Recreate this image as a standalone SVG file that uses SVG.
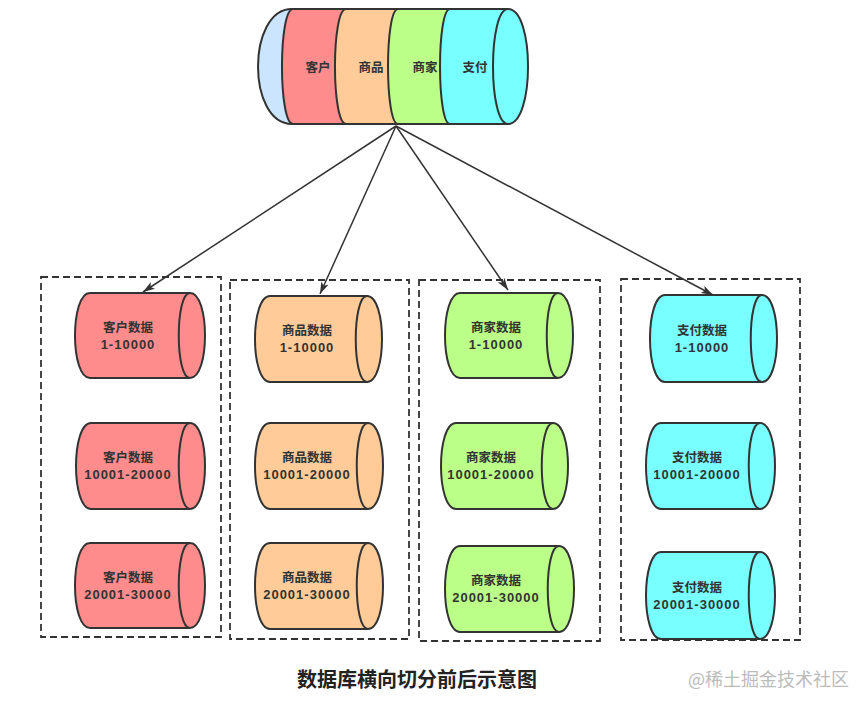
<svg xmlns="http://www.w3.org/2000/svg" width="868" height="705" viewBox="0 0 868 705">
<defs>
<marker id="arr" viewBox="0 0 12 8" refX="12" refY="4" markerWidth="12" markerHeight="8" orient="auto" markerUnits="userSpaceOnUse">
<path d="M0,0 L12,4 L0,8 L3,4 Z" fill="#333"/>
</marker>
<style>
.s{stroke:#333;stroke-width:2;stroke-linejoin:round}
.f{fill:none;stroke:#333;stroke-width:2}
.red{fill:#FF8C8C}
.org{fill:#FFCC99}
.grn{fill:#BBFF88}
.cyn{fill:#78FFFF}
.blu{fill:#CCE5FF}
.box{fill:none;stroke:#333;stroke-width:1.8;stroke-dasharray:7 4}
.t{font-family:"Noto Sans CJK SC","Liberation Sans",sans-serif;font-size:12.5px;font-weight:bold;fill:#333;text-anchor:middle}
.n{font-family:"Liberation Sans",Arial,sans-serif;font-size:13px;letter-spacing:1px}
.tt{font-family:"Noto Sans CJK SC","Liberation Sans",sans-serif;font-size:12.5px;font-weight:bold;fill:#333;text-anchor:middle}
.cap{font-family:"Noto Sans CJK SC","Liberation Sans",sans-serif;font-size:20px;font-weight:bold;fill:#222;text-anchor:middle}
.wm{font-family:"Noto Sans CJK SC","Liberation Sans",sans-serif;font-size:18px;fill:#bbbbbb}
.ln{fill:none;stroke:#333;stroke-width:1.5}
</style>
</defs>
<rect width="868" height="705" fill="#fff"/>

<g id="top-db">
<path class="s blu" d="M292,9 L300,9 L300,124 L292,124 C246.7,124 246.7,9 292,9 Z"/>
<path class="s red" d="M293,9 L350,9 L350,124 L293,124 C278.3,124 278.3,9 293,9 Z"/>
<path class="s org" d="M346,9 L402,9 L402,124 L346,124 C331.3,124 331.3,9 346,9 Z"/>
<path class="s grn" d="M398,9 L455,9 L455,124 L398,124 C384.7,124 384.7,9 398,9 Z"/>
<path class="s cyn" d="M450,9 L508,9 C534.7,9 534.7,124 508,124 L450,124 C436.7,124 436.7,9 450,9 Z"/>
<path class="f" d="M508,9 C488,9 488,124 508,124"/>
<text class="tt" x="318" y="72">客户</text>
<text class="tt" x="371" y="72">商品</text>
<text class="tt" x="425" y="72">商家</text>
<text class="tt" x="475" y="72">支付</text>
</g>

<g id="connectors">
<line class="ln" x1="396" y1="126" x2="143" y2="292" marker-end="url(#arr)"/>
<line class="ln" x1="396" y1="126" x2="320" y2="294" marker-end="url(#arr)"/>
<line class="ln" x1="396" y1="126" x2="508" y2="290" marker-end="url(#arr)"/>
<line class="ln" x1="396" y1="126" x2="713" y2="295" marker-end="url(#arr)"/>
</g>

<g id="group-customer">
<rect class="box" x="41" y="277" width="180" height="360"/>
<g id="cust-1">
<path class="s red" d="M90,293 L190,293 C210,293 210,378 190,378 L90,378 C70,378 70,293 90,293 Z"/>
<path class="f" d="M190,293 C175,293 175,378 190,378"/>
<text class="t" x="128" y="331.5">客户数据</text>
<text class="t n" x="128" y="348.5">1-10000</text>
</g>
<g id="cust-2">
<path class="s red" d="M91,423 L190,423 C210,423 210,509 190,509 L91,509 C71,509 71,423 91,423 Z"/>
<path class="f" d="M190,423 C175,423 175,509 190,509"/>
<text class="t" x="128" y="462">客户数据</text>
<text class="t n" x="128" y="479">10001-20000</text>
</g>
<g id="cust-3">
<path class="s red" d="M90,543 L190,543 C210,543 210,628 190,628 L90,628 C70,628 70,543 90,543 Z"/>
<path class="f" d="M190,543 C175,543 175,628 190,628"/>
<text class="t" x="128" y="582">客户数据</text>
<text class="t n" x="128" y="599">20001-30000</text>
</g>
</g>

<g id="group-product">
<rect class="box" x="230" y="280" width="179" height="359"/>
<g id="prod-1">
<path class="s org" d="M270,296 L367,296 C387,296 387,382 367,382 L270,382 C250,382 250,296 270,296 Z"/>
<path class="f" d="M367,296 C352,296 352,382 367,382"/>
<text class="t" x="307" y="335">商品数据</text>
<text class="t n" x="307" y="352">1-10000</text>
</g>
<g id="prod-2">
<path class="s org" d="M270,423 L368,423 C388,423 388,509 368,509 L270,509 C250,509 250,423 270,423 Z"/>
<path class="f" d="M368,423 C353,423 353,509 368,509"/>
<text class="t" x="307" y="462">商品数据</text>
<text class="t n" x="307" y="479">10001-20000</text>
</g>
<g id="prod-3">
<path class="s org" d="M270,543 L368,543 C388,543 388,629 368,629 L270,629 C250,629 250,543 270,543 Z"/>
<path class="f" d="M368,543 C353,543 353,629 368,629"/>
<text class="t" x="307" y="582">商品数据</text>
<text class="t n" x="307" y="599">20001-30000</text>
</g>
</g>

<g id="group-merchant">
<rect class="box" x="419" y="280" width="181" height="361"/>
<g id="merc-1">
<path class="s grn" d="M460,293 L558,293 C578,293 578,378 558,378 L460,378 C440,378 440,293 460,293 Z"/>
<path class="f" d="M558,293 C543,293 543,378 558,378"/>
<text class="t" x="496" y="331.5">商家数据</text>
<text class="t n" x="496" y="348.5">1-10000</text>
</g>
<g id="merc-2">
<path class="s grn" d="M456,423 L553,423 C573,423 573,509 553,509 L456,509 C436,509 436,423 456,423 Z"/>
<path class="f" d="M553,423 C538,423 538,509 553,509"/>
<text class="t" x="491" y="462">商家数据</text>
<text class="t n" x="491" y="479">10001-20000</text>
</g>
<g id="merc-3">
<path class="s grn" d="M460,546 L559,546 C579,546 579,632 559,632 L460,632 C440,632 440,546 460,546 Z"/>
<path class="f" d="M559,546 C544,546 544,632 559,632"/>
<text class="t" x="496" y="585">商家数据</text>
<text class="t n" x="496" y="602">20001-30000</text>
</g>
</g>

<g id="group-payment">
<rect class="box" x="621" y="279" width="179" height="361"/>
<g id="pay-1">
<path class="s cyn" d="M665,295 L762,295 C782,295 782,382 762,382 L665,382 C645,382 645,295 665,295 Z"/>
<path class="f" d="M762,295 C747,295 747,382 762,382"/>
<text class="t" x="702" y="334.5">支付数据</text>
<text class="t n" x="702" y="351.5">1-10000</text>
</g>
<g id="pay-2">
<path class="s cyn" d="M661,423 L760,423 C780,423 780,509 760,509 L661,509 C641,509 641,423 661,423 Z"/>
<path class="f" d="M760,423 C745,423 745,509 760,509"/>
<text class="t" x="697" y="462">支付数据</text>
<text class="t n" x="697" y="479">10001-20000</text>
</g>
<g id="pay-3">
<path class="s cyn" d="M661,552 L760,552 C780,552 780,639 760,639 L661,639 C641,639 641,552 661,552 Z"/>
<path class="f" d="M760,552 C745,552 745,639 760,639"/>
<text class="t" x="697" y="591.5">支付数据</text>
<text class="t n" x="697" y="608.5">20001-30000</text>
</g>
</g>

<text class="cap" x="417" y="687">数据库横向切分前后示意图</text>
<text class="wm" x="688" y="686">@稀土掘金技术社区</text>
</svg>
